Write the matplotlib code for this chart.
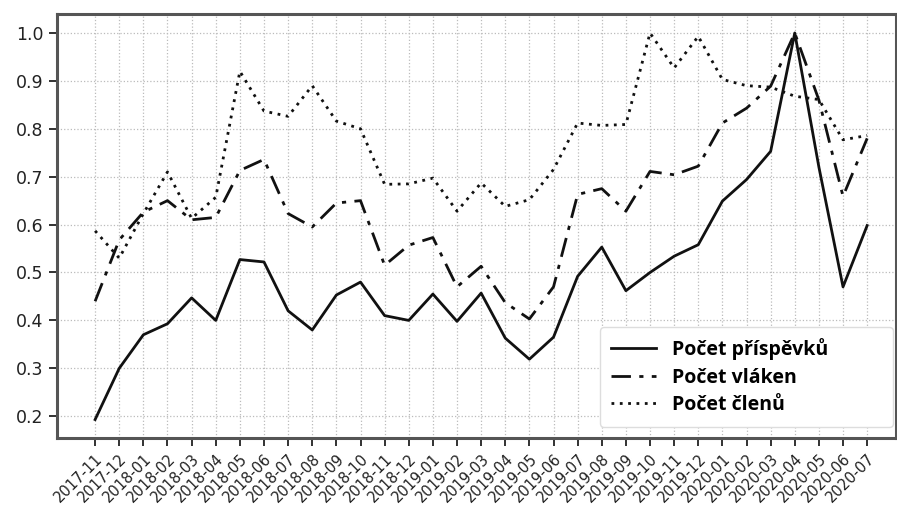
import numpy as np
import matplotlib.pyplot as plt

months = ["2017-11", "2017-12",
          "2018-01", "2018-02", "2018-03", "2018-04", "2018-05", "2018-06",
          "2018-07", "2018-08", "2018-09", "2018-10", "2018-11", "2018-12",
          "2019-01", "2019-02", "2019-03", "2019-04", "2019-05", "2019-06",
          "2019-07", "2019-08", "2019-09", "2019-10", "2019-11", "2019-12",
          "2020-01", "2020-02", "2020-03", "2020-04", "2020-05", "2020-06",
          "2020-07"]

prispevky = [0.193, 0.30, 0.37, 0.393, 0.447, 0.40, 0.527, 0.522,
             0.42, 0.38, 0.453, 0.48, 0.41, 0.40,
             0.455, 0.398, 0.457, 0.363, 0.319, 0.365,
             0.492, 0.553, 0.462, 0.50, 0.534, 0.558,
             0.649, 0.694, 0.753, 1.0, 0.72, 0.47, 0.598]

vlakna = [0.44, 0.568, 0.626, 0.65, 0.61, 0.615, 0.713, 0.736,
          0.623, 0.595, 0.645, 0.65, 0.515, 0.557,
          0.573, 0.47, 0.513, 0.437, 0.403, 0.47,
          0.663, 0.675, 0.628, 0.711, 0.704, 0.722,
          0.812, 0.843, 0.889, 1.0, 0.86, 0.659, 0.78]

clenove = [0.587, 0.53, 0.623, 0.71, 0.613, 0.657, 0.92, 0.837,
           0.826, 0.89, 0.816, 0.80, 0.684, 0.685,
           0.697, 0.628, 0.687, 0.638, 0.652, 0.715,
           0.812, 0.807, 0.809, 1.0, 0.927, 0.993,
           0.903, 0.89, 0.887, 0.868, 0.861, 0.777, 0.786]

plt.rcParams["font.family"] = ["DejaVu Sans"]

x = np.arange(len(months))

fig = plt.figure(figsize=(8.97, 5.12), dpi=100)
ax = fig.add_axes([0.063, 0.145, 0.936, 0.828])

ax.plot(x, prispevky, color="#111111", lw=2, ls="-", label="Počet příspěvků")
ax.plot(x, vlakna, color="#111111", lw=2, ls=(0, (7, 3, 1.5, 3)), label="Počet vláken")
ax.plot(x, clenove, color="#111111", lw=2, ls=(0, (1, 2)), label="Počet členů")

ax.set_xlim(-1.6, 33.2)
ax.set_ylim(0.155, 1.04)
ax.set_xticks(x)
ax.set_xticklabels(months, rotation=45, ha="right", rotation_mode="anchor", fontsize=10.5)
ax.set_yticks([0.2, 0.3, 0.4, 0.5, 0.6, 0.7, 0.8, 0.9, 1.0])
ax.tick_params(axis="y", labelsize=12.5, length=6, width=1.3, colors="#222222")
ax.tick_params(axis="x", length=6, width=1.3, colors="#222222")
ax.grid(True, ls=":", color="#bbbbbb", lw=0.9)

for s in ax.spines.values():
    s.set_color("#555555")
    s.set_linewidth(2.2)

# legend box is wider than its text in the original, so stretch it
leg = ax.legend(loc="lower left", mode="expand", borderaxespad=0,
                bbox_to_anchor=(0.647, 0.026, 0.349, 0.233),
                prop={"family": "Open Sans", "weight": "bold", "size": 14},
                handlelength=2.3, borderpad=0.6, labelspacing=0.38, framealpha=1)
leg.get_frame().set_edgecolor("#dddddd")

fig.savefig("out.png", dpi=100)
